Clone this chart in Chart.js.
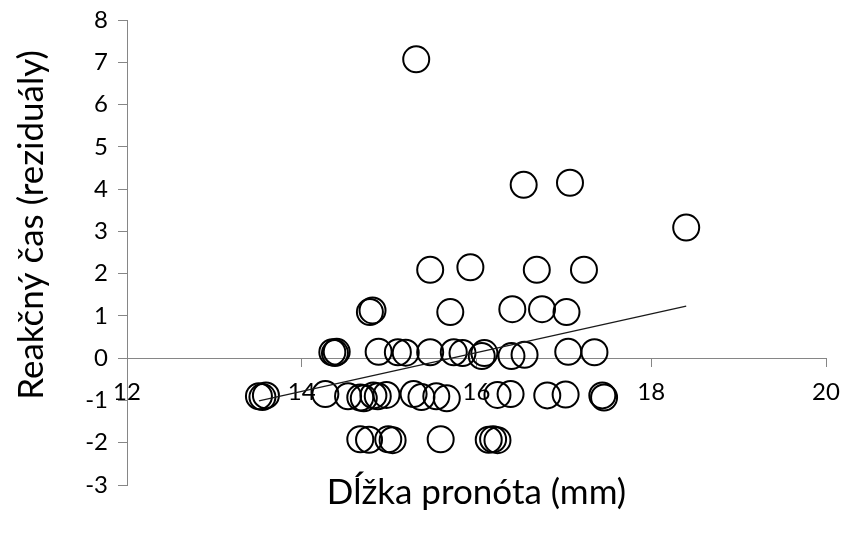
<!DOCTYPE html>
<html>
<head>
<meta charset="utf-8">
<script src="https://cdn.jsdelivr.net/npm/chart.js@4/dist/chart.umd.min.js"></script>
<style>
  html, body { margin: 0; padding: 0; background: #ffffff; }
  #wrap { width: 843px; height: 536px; }
</style>
</head>
<body>
<div id="wrap"><canvas id="chart" width="843" height="536"></canvas></div>
<script>
// Pronotum length (mm) vs. reaction-time residuals
const pronotumLength = [
    15.31, 16.54, 17.07, 18.40,
    15.47, 15.93, 16.69, 17.23,
    14.78, 14.81, 15.70, 16.41, 16.75, 17.03,
    14.35, 14.38, 14.40, 14.88, 15.10, 15.19, 15.47, 15.74, 15.84, 16.06, 16.09, 16.40, 16.55, 17.05, 17.35,
    13.51, 13.55, 13.59, 14.27, 14.53, 14.67, 14.71, 14.82, 14.87, 14.97, 15.28, 15.37, 15.54, 15.66, 16.24, 16.39, 16.81, 17.02, 17.44, 17.46,
    14.67, 14.77, 14.99, 15.04, 15.59, 16.14, 16.19, 16.24
];
const reactionResidual = [
    7.07, 4.10, 4.15, 3.09,
    2.09, 2.15, 2.09, 2.09,
    1.09, 1.13, 1.09, 1.16, 1.16, 1.09,
    0.14, 0.12, 0.15, 0.15, 0.14, 0.13, 0.14, 0.14, 0.12, 0.05, 0.12, 0.05, 0.08, 0.15, 0.14,
    -0.90, -0.92, -0.88, -0.85, -0.90, -0.93, -0.95, -0.88, -0.90, -0.87, -0.85, -0.92, -0.90, -0.95, -0.87, -0.85, -0.88, -0.86, -0.88, -0.93,
    -1.92, -1.93, -1.92, -1.94, -1.92, -1.93, -1.92, -1.94
];

// linear trend line end points
const trendX = [13.51, 18.40];
const trendY = [-1.01, 1.23];

const xTitle = 'Dĺžka pronóta (mm)';
const yTitle = 'Reakčný čas (reziduály)';

const AXIS_GREY = '#868686';
const FONT = 'Lato, "Open Sans", sans-serif';

const points = pronotumLength.map((x, i) => ({ x: x, y: reactionResidual[i] }));
const trend = trendX.map((x, i) => ({ x: x, y: trendY[i] }));

// axis titles placed like the original (y title sits a bit above plot centre)
const axisTitles = {
    id: 'axisTitles',
    afterDraw(chart) {
        const ctx = chart.ctx;
        const area = chart.chartArea;
        ctx.save();
        ctx.fillStyle = '#000000';
        ctx.font = '35px ' + FONT;
        ctx.textAlign = 'center';
        ctx.textBaseline = 'middle';
        ctx.fillText(xTitle, (area.left + area.right) / 2, 493);
        ctx.translate(32, 225);
        ctx.rotate(-Math.PI / 2);
        ctx.fillText(yTitle, 0, 0);
        ctx.restore();
    }
};

new Chart(document.getElementById('chart'), {
    type: 'scatter',
    data: {
        datasets: [
            {
                type: 'line',
                data: trend,
                borderColor: '#1a1a1a',
                borderWidth: 1.3,
                pointRadius: 0,
                fill: false,
                order: 0
            },
            {
                data: points,
                pointRadius: 13,
                pointHoverRadius: 13,
                borderWidth: 2,
                borderColor: '#000000',
                backgroundColor: 'rgba(0,0,0,0)',
                order: 1
            }
        ]
    },
    plugins: [axisTitles],
    options: {
        responsive: false,
        animation: false,
        events: [],
        layout: { padding: { top: 20, right: 17, bottom: 51, left: 0 } },
        plugins: {
            legend: { display: false },
            tooltip: { enabled: false }
        },
        scales: {
            x: {
                type: 'linear',
                min: 12,
                max: 20,
                position: { y: 0 },
                ticks: {
                    stepSize: 2,
                    color: '#000000',
                    font: { family: FONT, size: 24 },
                    padding: 12
                },
                grid: { drawOnChartArea: false, drawTicks: true, tickLength: 8, color: AXIS_GREY },
                border: { color: AXIS_GREY, width: 1 },
                // tick padding would otherwise widen the right margin
                afterFit(scale) { scale.paddingLeft = 0; scale.paddingRight = 14; }
            },
            y: {
                type: 'linear',
                min: -3,
                max: 8,
                ticks: {
                    stepSize: 1,
                    color: '#000000',
                    font: { family: FONT, size: 24 },
                    padding: 10
                },
                grid: { drawOnChartArea: false, drawTicks: true, tickLength: 9, color: AXIS_GREY },
                border: { color: AXIS_GREY, width: 1 },
                afterFit(scale) {
                    scale.width = 127;
                    scale.paddingTop = 0;
                    scale.paddingBottom = 0;
                }
            }
        }
    }
});
</script>
</body>
</html>
